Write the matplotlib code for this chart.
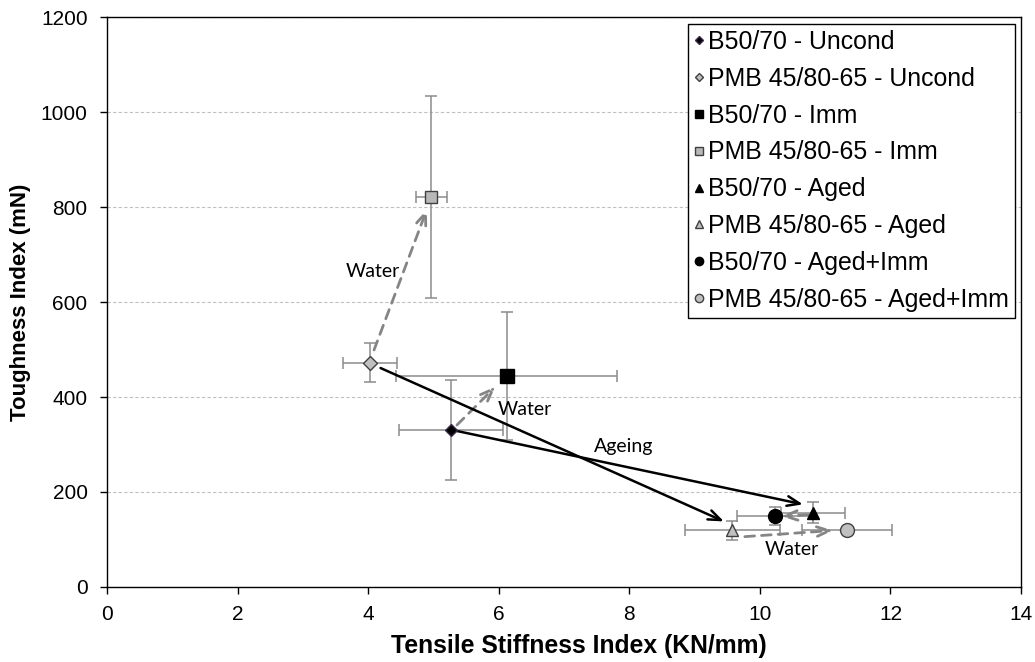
import matplotlib
matplotlib.use("Agg")
import matplotlib.pyplot as plt

# ---- data ----
labels = ["B50/70 - Uncond", "PMB 45/80-65 - Uncond", "B50/70 - Imm", "PMB 45/80-65 - Imm",
          "B50/70 - Aged", "PMB 45/80-65 - Aged", "B50/70 - Aged+Imm", "PMB 45/80-65 - Aged+Imm"]
stiffness = [5.27, 4.03, 6.12, 4.97, 10.82, 9.58, 10.23, 11.34]
stiffness_err = [0.80, 0.41, 1.69, 0.24, 0.49, 0.73, 0.58, 0.69]
toughness = [330, 472, 444, 821, 156, 119, 150, 119]
toughness_err = [105, 41, 134, 213, 22, 20, 19, 8]
markers = ["D", "D", "s", "s", "^", "^", "o", "o"]
msizes = [6.5, 7, 10, 9, 9, 9, 10, 10]
faces = ["black", "#c0c0c0", "black", "#b8b8b8", "black", "#c0c0c0", "black", "#c0c0c0"]
edges = ["#3a2a4a", "#404040", "black", "#404040", "black", "#404040", "black", "#404040"]

# arrows: (start_x, start_y, end_x, end_y, kind)
arrows = [
    (4.09, 499, 4.90, 795, "water"),
    (5.36, 341, 5.95, 422, "water"),
    (4.19, 461, 9.45, 138, "age"),
    (5.34, 329, 10.66, 174, "age"),
    (10.74, 152, 10.33, 149, "water"),
    (9.77, 106, 11.12, 119, "water"),
]
notes = [("Water", 4.07, 665), ("Water", 6.40, 373), ("Ageing", 7.92, 295), ("Water", 10.49, 78)]

xticks = [0, 2, 4, 6, 8, 10, 12, 14]
yticks = [0, 200, 400, 600, 800, 1000, 1200]

plt.rcParams["font.family"] = ["Liberation Sans", "DejaVu Sans"]

fig = plt.figure(figsize=(10.35, 6.62), dpi=100)
ax = fig.add_axes([0.1034, 0.1133, 0.8831, 0.861])

for i in range(len(labels)):
    ax.errorbar(stiffness[i], toughness[i], xerr=stiffness_err[i], yerr=toughness_err[i],
                fmt="none", ecolor="#8c8c8c", elinewidth=1.1, capsize=4, capthick=1.1, zorder=2)

for sx, sy, ex, ey, kind in arrows:
    if kind == "age":
        props = dict(arrowstyle="->,head_length=0.9,head_width=0.35", color="black", lw=1.8,
                     shrinkA=0, shrinkB=0)
    else:
        props = dict(arrowstyle="->,head_length=0.9,head_width=0.35", color="#858585", lw=2.0,
                     linestyle=(0, (3.5, 2.5)), shrinkA=0, shrinkB=0)
    ax.annotate("", xy=(ex, ey), xytext=(sx, sy), arrowprops=props, zorder=3)

handles = []
for i in range(len(labels)):
    h = ax.plot(stiffness[i], toughness[i], linestyle="none", marker=markers[i],
                markersize=msizes[i], markerfacecolor=faces[i], markeredgecolor=edges[i],
                markeredgewidth=1.0, label=labels[i], zorder=4)[0]
    handles.append(h)

for t, x, y in notes:
    ax.text(x, y, t, ha="center", va="center", fontsize=14, family=["Lato", "DejaVu Sans"])

ax.set_xlim(0, 14)
ax.set_ylim(0, 1200)
ax.set_xticks(xticks)
ax.set_yticks(yticks)
ax.tick_params(axis="both", labelsize=15, direction="out", length=5, width=1, colors="black")
ax.tick_params(axis="x", pad=8)
ax.tick_params(axis="y", pad=9)
ax.yaxis.grid(True, linestyle=(0, (3, 2)), color="#c0c0c0", linewidth=0.8)
ax.set_axisbelow(True)
for s in ax.spines.values():
    s.set_linewidth(1.0)
    s.set_color("black")

ax.set_xlabel("Tensile Stiffness Index (KN/mm)", fontsize=17.8, fontweight="bold", labelpad=8)
ax.xaxis.set_label_coords(0.516, -0.082)
ax.set_ylabel("Toughness Index (mN)", fontsize=16, fontweight="bold", labelpad=7)

leg = ax.legend(handles=handles, loc="upper right", bbox_to_anchor=(0.9935, 0.988),
                fontsize=17.9, markerscale=0.6, handlelength=0.35, handletextpad=0.2,
                labelspacing=0.515, borderpad=0.25, borderaxespad=0.0, frameon=True,
                fancybox=False, edgecolor="black", framealpha=1)
leg.get_frame().set_linewidth(1.0)

fig.savefig("out.png", dpi=100)
